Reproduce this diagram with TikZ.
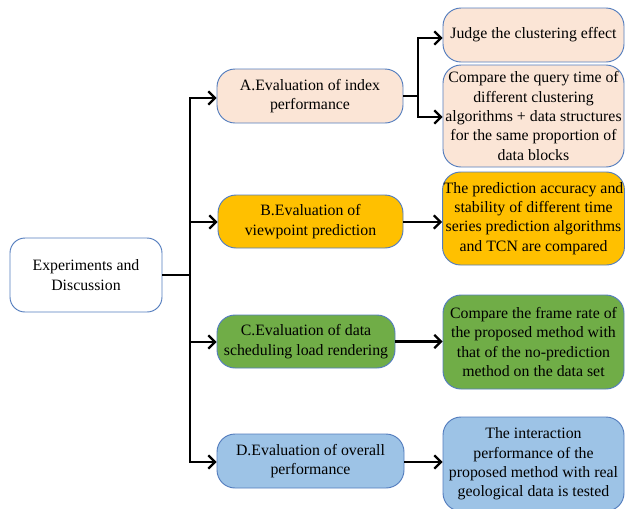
\documentclass[tikz,border=0pt]{standalone}
\usepackage{fontspec}
\setmainfont{Liberation Serif}
\usepackage{tikz}
\usetikzlibrary{arrows.meta,positioning}
\definecolor{edgeblue}{RGB}{84,125,190}
\definecolor{peach}{RGB}{251,229,214}
\definecolor{gold}{RGB}{255,192,0}
\definecolor{leaf}{RGB}{112,173,71}
\definecolor{sky}{RGB}{157,195,230}

\begin{document}
\begin{tikzpicture}[
  x=0.3mm, y=-0.3mm,
  box/.style={draw=edgeblue, line width=0.8pt, rounded corners=5.4mm, align=center, inner sep=1pt,
    font=\fontsize{13.5}{16.5}\selectfont},
  sub/.style={box, minimum width=54.3mm},
  arr/.style={-{Straight Barb[length=2mm,width=4mm]}, line width=1.9pt},
  wire/.style={line width=1.9pt}
]
\useasboundingbox (0,0) rectangle (625,508);
% root
\node[box, fill=white, rounded corners=4.5mm, minimum width=45.6mm, minimum height=22.2mm] (root) at (86,275) {Experiments and\\Discussion};
% second level
\node[box, fill=peach, minimum width=55.8mm, minimum height=16.2mm] (evalA) at (310,96) {A.Evaluation of index\\performance};
\node[box, fill=gold, minimum width=55.5mm, minimum height=15.9mm] (evalB) at (310.5,221.5) {B.Evaluation of\\viewpoint prediction};
\node[box, fill=leaf, minimum width=53.4mm, minimum height=15.9mm] (evalC) at (306,341.5) {C.Evaluation of data\\scheduling load rendering};
\node[box, fill=sky, minimum width=56.1mm, minimum height=16.2mm] (evalD) at (310.5,461) {D.Evaluation of overall\\performance};
% third level
\node[sub, fill=peach, minimum height=16.2mm] (judge) at (533.5,35) {Judge the clustering effect};
\node[sub, fill=peach, minimum height=30.6mm] (query) at (533.5,116) {Compare the query time of\\different clustering\\algorithms + data structures\\for the same proportion of\\data blocks};
\node[sub, fill=gold, minimum height=27.9mm] (accur) at (533.5,218.5) {The prediction accuracy and\\stability of different time\\series prediction algorithms\\and TCN are compared};
\node[sub, fill=leaf, minimum height=28.2mm] (frame) at (533.5,342) {Compare the frame rate of\\the proposed method with\\that of the no-prediction\\method on the data set};
\node[sub, fill=sky, minimum height=28.2mm] (inter) at (533.5,464) {The interaction\\performance of the\\proposed method with real\\geological data is tested};
% connectors
\coordinate (trunk) at (190,275);
\coordinate (split) at (418,96);
\draw[wire] (root.east) -- (trunk);
\foreach \t/\y in {evalA/98,evalB/222,evalC/342,evalD/462}
  \draw[arr] (trunk) |- (\t.west |- 0,\y);
\draw[wire] (evalA.east) -- (split);
\draw[arr] (split) |- (judge.west |- 0,38);
\draw[arr] (split) |- (query.west |- 0,117);
\draw[arr] (evalB.east |- 0,222) -- (accur.west |- 0,222);
\draw[arr] (evalC.east) -- (frame.west |- evalC.east);
\draw[arr] (evalD.east |- 0,462) -- (inter.west |- 0,462);
\end{tikzpicture}
\end{document}
